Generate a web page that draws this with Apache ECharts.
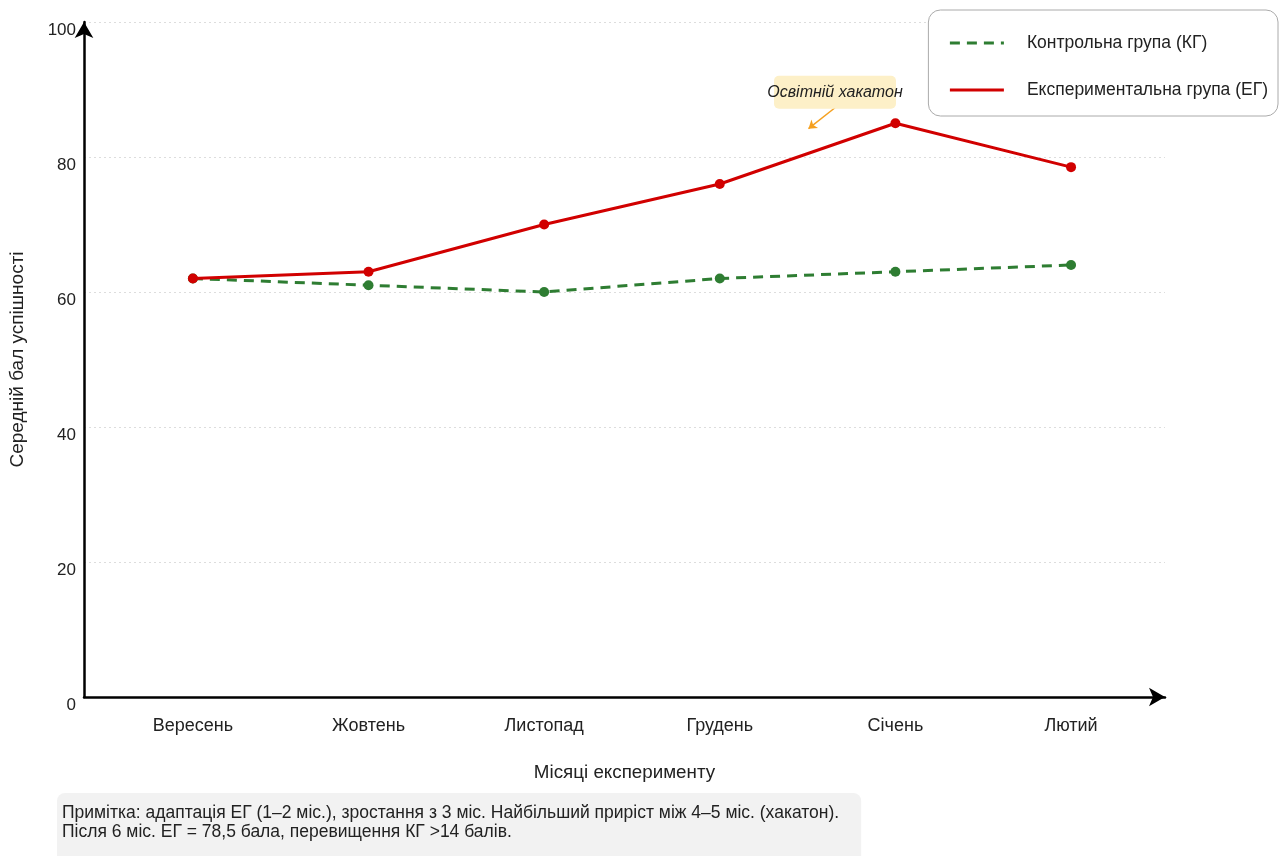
<!DOCTYPE html>
<html><head><meta charset="utf-8">
<script src="https://cdn.jsdelivr.net/npm/echarts@6/dist/echarts.min.js"></script>
<style>html,body{margin:0;padding:0;background:#fff}#c{width:1280px;height:856px}</style>
</head><body><div id="c"></div>
<script>
const months = ['Вересень','Жовтень','Листопад','Грудень','Січень','Лютий'];
const kgValues = [62, 61, 60, 62, 63, 64];
const egValues = [62, 63, 70, 76, 85, 78.5];
const yTicks = [0, 20, 40, 60, 80, 100];
const kgName = 'Контрольна група (КГ)';
const egName = 'Експериментальна група (ЕГ)';
const noteText = 'Примітка: адаптація ЕГ (1–2 міс.), зростання з 3 міс. Найбільший приріст між 4–5 міс. (хакатон).\nПісля 6 міс. ЕГ = 78,5 бала, перевищення КГ >14 балів.';
const annotText = 'Освітній хакатон';

const FONT = '"Liberation Sans", Arial, sans-serif';
const GREEN = '#2e7d32';
const RED = '#d10000';

const chart = echarts.init(document.getElementById('c'));
chart.setOption({
  animation: false,
  textStyle: { fontFamily: FONT },
  grid: { left: 84, right: 115, top: 22, bottom: 159, containLabel: false },
  title: {
    text: noteText,
    left: 57, top: 793,
    backgroundColor: '#f2f2f2',
    borderRadius: 8,
    padding: [11, 22, 30, 5],
    textStyle: { fontSize: 17.5, fontWeight: 'normal', color: '#222', lineHeight: 19, fontFamily: FONT }
  },
  legend: {
    orient: 'vertical',
    right: 2, top: 10,
    backgroundColor: '#fff',
    borderColor: '#aaa', borderWidth: 1, borderRadius: 12,
    padding: [24, 10, 17, 20],
    itemGap: 29,
    itemWidth: 54, itemHeight: 18,
    itemStyle: { opacity: 0 },
    lineStyle: { width: 3 },
    textStyle: { fontSize: 17.5, color: '#222', padding: [0, 0, 0, 18], fontFamily: FONT },
    data: [kgName, egName]
  },
  xAxis: {
    type: 'value',
    min: -0.62, max: 5.535,
    name: 'Місяці експерименту',
    nameLocation: 'middle', nameGap: 66,
    nameTextStyle: { fontSize: 18.8, color: '#222' },
    axisLine: { onZero: false, lineStyle: { color: '#000', width: 2.5 }, symbol: ['none', 'arrow'], symbolSize: [14, 16], symbolOffset: [0, 0] },
    axisTick: { show: false },
    splitLine: { show: false },
    axisLabel: {
      customValues: months.map((m, i) => i),
      formatter: v => months[Math.round(v)] || '',
      fontSize: 18, color: '#222', margin: 20
    }
  },
  yAxis: {
    type: 'value', min: 0, max: 100, interval: 20,
    name: 'Середній бал успішності',
    nameLocation: 'middle', nameGap: 57, nameRotate: 90,
    nameTextStyle: { fontSize: 19, color: '#222' },
    axisLine: { show: true, onZero: false, lineStyle: { color: '#000', width: 2.5 }, symbol: ['none', 'arrow'], symbolSize: [14, 16], symbolOffset: [0, 0] },
    axisTick: { show: false },
    axisLabel: {
      customValues: yTicks,
      fontSize: 17, color: '#222', margin: 8, verticalAlign: 'top'
    },
    splitLine: { show: true, lineStyle: { color: '#ddd', type: [2, 3], width: 1 } }
  },
  series: [
    {
      name: kgName, type: 'line',
      data: kgValues.map((v, i) => [i, v]),
      symbol: 'circle', symbolSize: 10,
      itemStyle: { color: GREEN },
      lineStyle: { color: GREEN, width: 3, type: [10, 7] },
      z: 2
    },
    {
      name: egName, type: 'line',
      data: egValues.map((v, i) => [i, v]),
      symbol: 'circle', symbolSize: 10,
      itemStyle: { color: RED },
      lineStyle: { color: RED, width: 3 },
      z: 3,
      markPoint: {
        symbol: 'path://M5,0 H117 A5,5 0 0 1 122,5 V28 A5,5 0 0 1 117,33 H5 A5,5 0 0 1 0,28 V5 A5,5 0 0 1 5,0 Z',
        symbolSize: [122, 33], silent: true,
        itemStyle: { color: '#fdf0c8' },
        data: [{ coord: [3.656, 89.6] }],
        label: {
          show: true, position: 'inside',
          formatter: annotText,
          fontStyle: 'italic', fontSize: 16, color: '#222'
        }
      },
      markLine: {
        silent: true,
        symbol: ['none', 'arrow'], symbolSize: 8,
        lineStyle: { color: '#f5a020', width: 1.5, type: 'solid' },
        label: { show: false },
        data: [[{ coord: [3.656, 87.3] }, { coord: [3.505, 84.2] }]]
      }
    }
  ]
});
</script>
</body></html>
